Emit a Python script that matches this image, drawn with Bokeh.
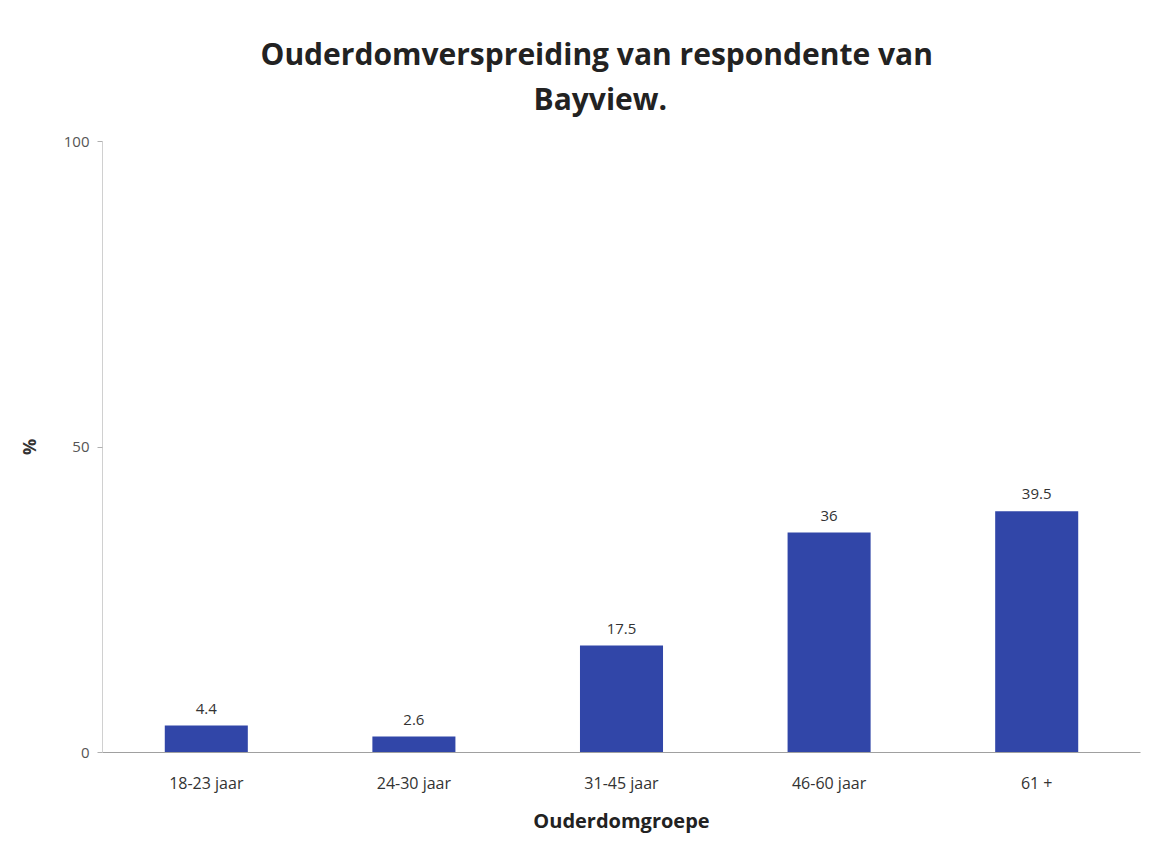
from bokeh.plotting import figure
from bokeh.models import ColumnDataSource, FixedTicker, LabelSet, Title
from bokeh.core.properties import value
from bokeh.embed import file_html
from bokeh.resources import INLINE

categories = ["18-23 jaar", "24-30 jaar", "31-45 jaar", "46-60 jaar", "61 +"]
values = [4.4, 2.6, 17.5, 36, 39.5]
value_labels = ["4.4", "2.6", "17.5", "36", "39.5"]
y_ticks = [0, 50, 100]
title_lines = ["Ouderdomverspreiding van respondente van", "Bayview."]

src = ColumnDataSource(dict(cat=categories, val=values, lab=value_labels))

p = figure(x_range=categories, y_range=(0, 100), width=1165, height=836,
           output_backend="svg", toolbar_location=None,
           min_border_left=102, min_border_right=25, min_border_top=141, min_border_bottom=82)
p.outline_line_color = None
p.border_fill_color = "white"
p.background_fill_color = "white"
p.xgrid.grid_line_color = None
p.ygrid.grid_line_color = None
p.x_range.range_padding = 0

p.vbar(x="cat", top="val", width=0.4, source=src, fill_color="#3146A8", line_color=None)

p.add_layout(LabelSet(x="cat", y="val", text="lab", source=src, y_offset=12,
                      text_align="center", text_baseline="bottom",
                      text_font=value("Open Sans"), text_font_size="15px",
                      text_color="#333333"))

# axes
p.yaxis.ticker = FixedTicker(ticks=y_ticks)
p.yaxis.axis_line_color = "#d0d0d0"
p.yaxis.major_tick_line_color = "#b0b0b0"
p.yaxis.major_tick_out = 5
p.yaxis.major_tick_in = 0
p.yaxis.minor_tick_line_color = None
p.yaxis.major_label_text_font = "Open Sans"
p.yaxis.major_label_text_font_size = "15px"
p.yaxis.major_label_text_color = "#555555"
p.yaxis.major_label_standoff = 8
p.yaxis.axis_label = "%"
p.yaxis.axis_label_text_font = "Open Sans"
p.yaxis.axis_label_text_font_style = "bold"
p.yaxis.axis_label_text_font_size = "18px"
p.yaxis.axis_label_text_color = "#333333"
p.yaxis.axis_label_standoff = 20

p.xaxis.axis_line_color = "#a0a0a0"
p.xaxis.major_tick_line_color = None
p.xaxis.minor_tick_line_color = None
p.xaxis.major_label_text_font = "Open Sans"
p.xaxis.major_label_text_font_size = "16px"
p.xaxis.major_label_text_color = "#333333"
p.xaxis.major_label_standoff = 13
p.xaxis.axis_label = "Ouderdomgroepe"
p.xaxis.axis_label_text_font = "Open Sans"
p.xaxis.axis_label_text_font_style = "bold"
p.xaxis.axis_label_text_font_size = "20px"
p.xaxis.axis_label_text_color = "#222222"
p.xaxis.axis_label_standoff = 10

# spacer between the title and the plot area
p.add_layout(Title(text=" ", text_font_size="1px", standoff=18), "above")

# title lines: added inside-out (last added is the top line)
title_offsets = {"Bayview.": 431, title_lines[0]: 158}
for i, line in enumerate(reversed(title_lines)):
    p.add_layout(Title(text=line, align="left", offset=title_offsets[line],
                       text_font="Open Sans", text_font_style="bold",
                       text_font_size="30px", text_color="#222222",
                       standoff=4 if i == 0 else 0), "above")

open("out.html", "w").write(file_html(p, INLINE))
